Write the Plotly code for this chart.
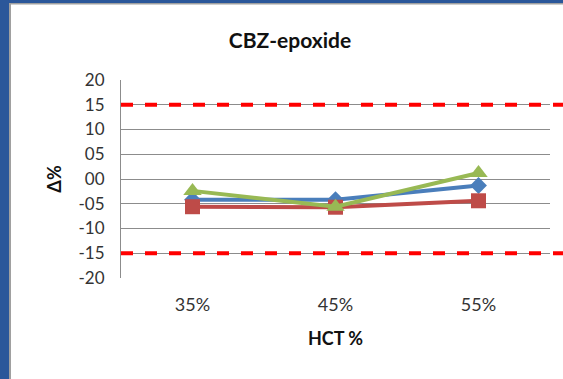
import plotly.graph_objects as go

categories = ["35%", "45%", "55%"]
series_blue = [-4.2, -4.2, -1.3]
series_red = [-5.6, -5.7, -4.4]
series_green = [-2.4, -5.6, 1.2]
limits = [15, -15]
ytick_vals = [20, 15, 10, 5, 0, -5, -10, -15, -20]
ytick_text = ["20", "15", "10", "05", "00", "-05", "-10", "-15", "-20"]

W, H = 563, 379
L, R, T, B = 121, 13, 80, 101
pw = W - L - R
ph = H - T - B

def px(x):
    return (x - L) / pw

def py(y):
    return 1 - (y - T) / ph

fig = go.Figure()
fig.add_trace(go.Scatter(x=categories, y=series_blue, mode="lines+markers",
                         line=dict(color="#4A7EBB", width=4),
                         marker=dict(symbol="diamond", size=13, color="#4A7EBB"),
                         cliponaxis=False, showlegend=False))
fig.add_trace(go.Scatter(x=categories, y=series_red, mode="lines+markers",
                         line=dict(color="#BE4B48", width=4),
                         marker=dict(symbol="square", size=15, color="#BE4B48"),
                         cliponaxis=False, showlegend=False))
fig.add_trace(go.Scatter(x=categories, y=series_green, mode="lines+markers",
                         line=dict(color="#98B954", width=4),
                         marker=dict(symbol="triangle-up", size=16, color="#98B954"),
                         cliponaxis=False, showlegend=False))

shapes = []
for v in limits:
    shapes.append(dict(type="line", xref="paper", yref="y", x0=0, x1=px(W + 5), y0=v, y1=v,
                       line=dict(color="#FF0000", width=4, dash="dash"), layer="above"))
# window border decoration
shapes.append(dict(type="rect", xref="paper", yref="paper", x0=px(0), x1=px(9), y0=py(0), y1=py(H + 2),
                   fillcolor="#2B579A", line=dict(width=0), layer="below"))
shapes.append(dict(type="rect", xref="paper", yref="paper", x0=px(9), x1=px(11), y0=py(3), y1=py(H + 2),
                   fillcolor="#A0A0A0", line=dict(width=0), layer="below"))
shapes.append(dict(type="rect", xref="paper", yref="paper", x0=px(0), x1=px(W + 2), y0=py(0), y1=py(3),
                   fillcolor="#2B579A", line=dict(width=0), layer="below"))
shapes.append(dict(type="rect", xref="paper", yref="paper", x0=px(9), x1=px(W + 2), y0=py(3), y1=py(4.5),
                   fillcolor="#A0A0A0", line=dict(width=0), layer="below"))

fig.update_layout(
    width=W, height=H,
    margin=dict(l=L, r=R, t=T, b=B),
    paper_bgcolor="white", plot_bgcolor="white",
    font=dict(family="Lato, 'Open Sans', sans-serif", color="#222"),
    title=dict(text="<b>CBZ-epoxide</b>", x=290 / W, xanchor="center", y=1 - 41 / H, yanchor="middle",
               font=dict(size=21, color="#111")),
    shapes=shapes,
    xaxis=dict(type="category", range=[-0.5, 2.5], showgrid=False, showline=False,
               ticks="", tickfont=dict(size=18, color="#333"), ticklabelstandoff=14,
               title=dict(text="<b>HCT %</b>", font=dict(size=18, color="#111"), standoff=18)),
    yaxis=dict(range=[-20, 20], tickvals=ytick_vals, ticktext=ytick_text,
               showgrid=True, gridcolor="#8C8C8C", gridwidth=1,
               showline=True, linecolor="#8C8C8C", linewidth=1, zeroline=False,
               ticks="", tickfont=dict(size=17, color="#333"), ticklabelstandoff=12,
               title=dict(text="<b>Δ%</b>", font=dict(size=18, color="#111"), standoff=12)),
)

fig.write_html("out.html")
